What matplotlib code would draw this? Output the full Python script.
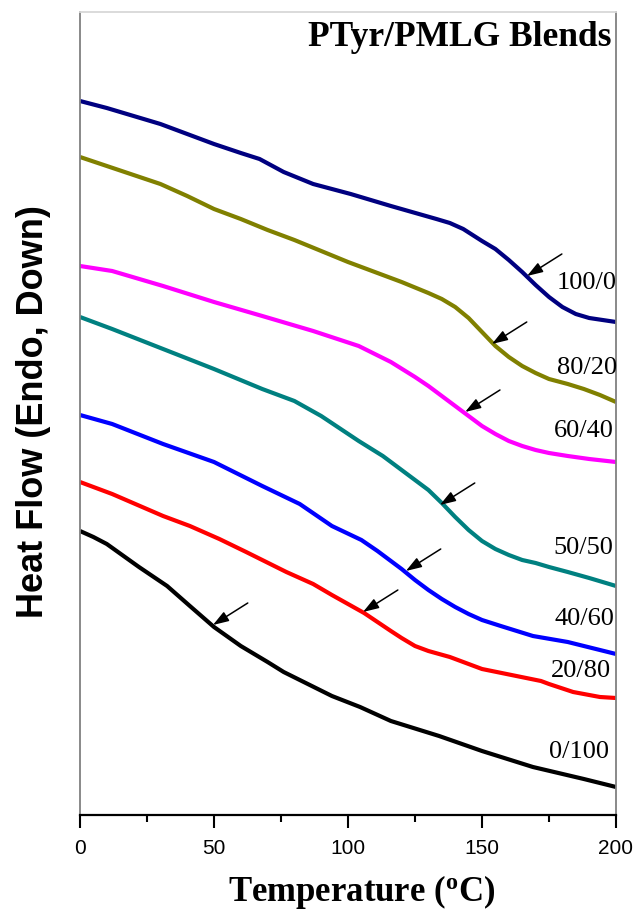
import numpy as np
import matplotlib
matplotlib.use('Agg')
from matplotlib import pyplot as plt

# heating scans, temperature in C, heat flow in arbitrary (shifted) units
t_100_0 = [0, 10, 20, 30, 40, 50, 60, 67, 76, 87, 101, 116, 133, 138, 143, 150, 155, 160, 165, 170, 175, 180,
           185, 190, 200]
hf_100_0 = [7.14, 7.07, 6.99, 6.91, 6.81, 6.71, 6.62, 6.56, 6.43, 6.31, 6.21, 6.09, 5.96, 5.92, 5.86, 5.74,
            5.66, 5.55, 5.43, 5.30, 5.18, 5.08, 5.01, 4.97, 4.93]

t_80_20 = [0, 10, 20, 30, 40, 50, 60, 70, 80, 90, 100, 110, 120, 130, 135, 140, 145, 150, 155, 160, 165, 170,
           175, 182, 188, 194, 200]
hf_80_20 = [6.58, 6.49, 6.40, 6.31, 6.19, 6.06, 5.96, 5.85, 5.75, 5.64, 5.53, 5.43, 5.33, 5.22, 5.16, 5.08,
            4.97, 4.83, 4.69, 4.58, 4.49, 4.42, 4.36, 4.31, 4.26, 4.20, 4.13]

t_60_40 = [0, 12, 31, 50, 68, 87, 104, 116, 125, 130, 135, 140, 145, 150, 155, 160, 165, 170, 175, 182, 190, 200]
hf_60_40 = [5.49, 5.44, 5.29, 5.13, 4.99, 4.84, 4.69, 4.53, 4.38, 4.29, 4.19, 4.09, 3.99, 3.89, 3.81, 3.74,
            3.69, 3.65, 3.62, 3.59, 3.56, 3.53]

t_50_50 = [0, 12, 31, 50, 68, 80, 90, 104, 113, 120, 125, 130, 135, 140, 145, 150, 155, 160, 165, 170, 175,
           182, 190, 200]
hf_50_50 = [4.98, 4.86, 4.66, 4.46, 4.26, 4.14, 3.99, 3.74, 3.59, 3.45, 3.35, 3.25, 3.12, 2.98, 2.85, 2.74,
            2.66, 2.60, 2.55, 2.52, 2.48, 2.43, 2.37, 2.29]

t_40_60 = [0, 12, 31, 50, 68, 82, 94, 105, 111, 115, 120, 125, 130, 135, 140, 145, 150, 157, 169, 182, 200]
hf_40_60 = [4.00, 3.91, 3.71, 3.53, 3.29, 3.11, 2.89, 2.75, 2.64, 2.56, 2.46, 2.35, 2.25, 2.16, 2.08, 2.01,
            1.95, 1.89, 1.79, 1.73, 1.61]

t_20_80 = [0, 12, 31, 41, 52, 62, 77, 87, 94, 106, 116, 120, 125, 130, 138, 150, 172, 175, 184, 194, 200]
hf_20_80 = [3.33, 3.21, 2.99, 2.89, 2.76, 2.63, 2.43, 2.31, 2.20, 2.02, 1.84, 1.77, 1.69, 1.64, 1.58, 1.46,
            1.34, 1.31, 1.23, 1.18, 1.17]

t_0_100 = [0, 5, 10, 22, 32.5, 41, 50, 60, 70, 76, 85, 94, 104.5, 116, 134, 150, 169, 188, 200]
hf_0_100 = [2.84, 2.78, 2.71, 2.48, 2.29, 2.09, 1.88, 1.69, 1.53, 1.43, 1.31, 1.19, 1.08, 0.94, 0.79, 0.64,
            0.48, 0.36, 0.28]

labels = ['100/0', '80/20', '60/40', '50/50', '40/60', '20/80', '0/100']
colors = ['#000080', '#808000', '#FF00FF', '#008080', '#0000FF', '#FF0000', '#000000']
temps = [t_100_0, t_80_20, t_60_40, t_50_50, t_40_60, t_20_80, t_0_100]
flows = [hf_100_0, hf_80_20, hf_60_40, hf_50_50, hf_40_60, hf_20_80, hf_0_100]

# Tg arrows (tip) and label positions
tg_x = [166.8, 153.7, 143.7, 134.3, 121.6, 105.6, 49.6]
tg_y = [5.39, 4.71, 4.03, 3.10, 2.44, 2.03, 1.90]
lab_x = [189.2, 189.2, 188.0, 187.7, 188.4, 187.0, 186.2]
lab_y = [5.33, 4.48, 3.85, 2.68, 1.97, 1.45, 0.64]

plt.rcParams.update({
    'mathtext.fontset': 'custom',
    'mathtext.bf': 'Liberation Serif:bold',
    'mathtext.rm': 'Liberation Serif:bold',
})

fig = plt.figure(figsize=(6.37, 9.12), dpi=100)
ax = fig.add_axes((80/637, 1-816/912, 536/637, 803/912))

for t, hf, c in zip(temps, flows, colors):
    ax.plot(t, hf, color=c, lw=3.0, solid_joinstyle='round', solid_capstyle='butt')

for x, y in zip(tg_x, tg_y):
    ax.annotate('', xy=(x, y), xytext=(x+13, y+0.22),
                arrowprops=dict(arrowstyle='-|>,head_length=0.95,head_width=0.32', color='k', lw=1.1,
                                shrinkA=0, shrinkB=0))

for lab, x, y in zip(labels, lab_x, lab_y):
    ax.text(x, y, lab, ha='center', va='center', fontsize=19, family='Liberation Serif')

ax.text(198.5, 7.78, 'PTyr/PMLG Blends', ha='right', va='center', fontsize=25.5,
        family='Liberation Serif', weight='bold')

ax.set_xlim(0, 200)
ax.set_ylim(0, 8.03)
ax.set_xticks([0, 50, 100, 150, 200])
ax.set_xticks([25, 75, 125, 175], minor=True)
ax.set_yticks([])
ax.tick_params(axis='x', which='major', length=9.5, width=1.5, pad=7, labelsize=15, direction='out')
ax.tick_params(axis='x', which='minor', length=5, width=1.5, direction='out')
for lab in ax.get_xticklabels():
    lab.set_family('Liberation Sans')

ax.spines['bottom'].set_linewidth(1.6)
ax.spines['bottom'].set_color('black')
ax.spines['left'].set_color('#808080')
ax.spines['right'].set_color('#808080')
ax.spines['top'].set_color('#d8d8d8')
for s in ['left', 'right', 'top']:
    ax.spines[s].set_linewidth(1.3)

fig.text(34/637, 1-412/912, 'Heat Flow (Endo, Down)', rotation=90, ha='center', va='center',
         fontsize=26, family='Liberation Sans', weight='bold')
fig.text(362/637, 1-901/912, r'Temperature ($\mathbf{^o}$C)', ha='center', va='baseline',
         fontsize=25, family='Liberation Serif', weight='bold')

plt.savefig('out.png', dpi=100)
